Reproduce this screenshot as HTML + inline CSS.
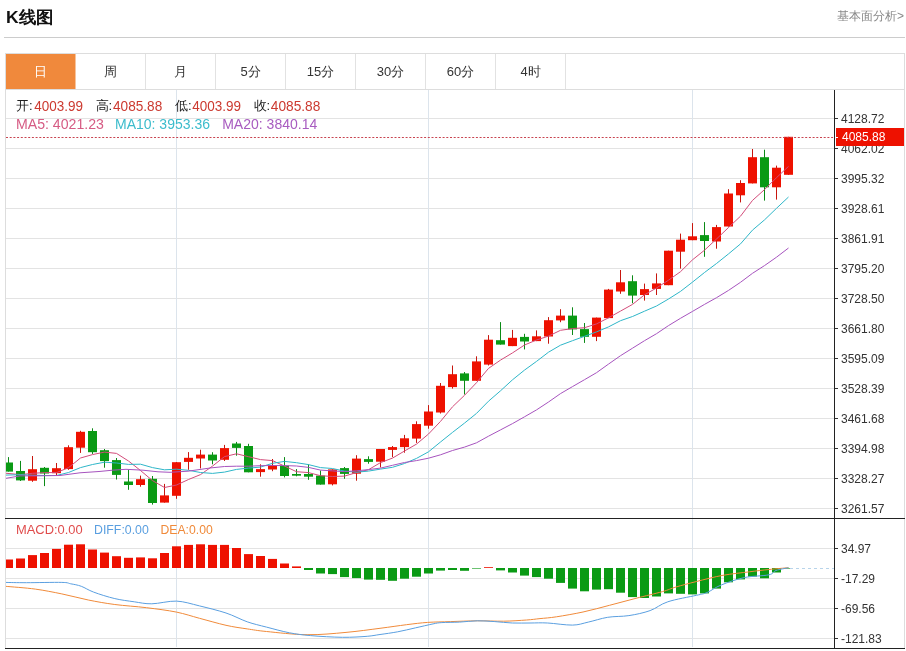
<!DOCTYPE html>
<html><head><meta charset="utf-8"><style>
html,body{margin:0;padding:0;background:#fff;width:906px;height:651px;overflow:hidden}
svg{display:block;font-family:"Liberation Sans",sans-serif;will-change:transform}
</style></head><body>
<svg width="906" height="651" viewBox="0 0 906 651">
<text x="6" y="23" font-size="17" font-weight="bold" fill="#111" textLength="47.5" lengthAdjust="spacingAndGlyphs">K线图</text>
<text x="904" y="20" font-size="12" fill="#888" text-anchor="end">基本面分析&gt;</text>
<rect x="4" y="37" width="901" height="1" fill="#ccc"/>
<rect x="5.5" y="53.5" width="899" height="36" fill="#fff" stroke="#ddd" stroke-width="1"/>
<rect x="6" y="54" width="69.5" height="35" fill="#f0893c"/>
<text x="40.5" y="76.2" font-size="13" fill="#fff" text-anchor="middle">日</text>
<rect x="145" y="54" width="1" height="35" fill="#e2e2e2"/>
<text x="110.5" y="76.2" font-size="13" fill="#333" text-anchor="middle">周</text>
<rect x="215" y="54" width="1" height="35" fill="#e2e2e2"/>
<text x="180.5" y="76.2" font-size="13" fill="#333" text-anchor="middle">月</text>
<rect x="285" y="54" width="1" height="35" fill="#e2e2e2"/>
<text x="250.5" y="76.2" font-size="13" fill="#333" text-anchor="middle">5分</text>
<rect x="355" y="54" width="1" height="35" fill="#e2e2e2"/>
<text x="320.5" y="76.2" font-size="13" fill="#333" text-anchor="middle">15分</text>
<rect x="425" y="54" width="1" height="35" fill="#e2e2e2"/>
<text x="390.5" y="76.2" font-size="13" fill="#333" text-anchor="middle">30分</text>
<rect x="495" y="54" width="1" height="35" fill="#e2e2e2"/>
<text x="460.5" y="76.2" font-size="13" fill="#333" text-anchor="middle">60分</text>
<rect x="565" y="54" width="1" height="35" fill="#e2e2e2"/>
<text x="530.5" y="76.2" font-size="13" fill="#333" text-anchor="middle">4时</text>
<rect x="5" y="89" width="1" height="559" fill="#ddd"/>
<rect x="904" y="89" width="1" height="559" fill="#ddd"/>
<rect x="6" y="118" width="828" height="1" fill="#e3e3e3"/>
<rect x="835" y="118" width="3" height="1" fill="#333"/>
<rect x="6" y="148" width="828" height="1" fill="#e3e3e3"/>
<rect x="835" y="148" width="3" height="1" fill="#333"/>
<rect x="6" y="178" width="828" height="1" fill="#e3e3e3"/>
<rect x="835" y="178" width="3" height="1" fill="#333"/>
<rect x="6" y="208" width="828" height="1" fill="#e3e3e3"/>
<rect x="835" y="208" width="3" height="1" fill="#333"/>
<rect x="6" y="238" width="828" height="1" fill="#e3e3e3"/>
<rect x="835" y="238" width="3" height="1" fill="#333"/>
<rect x="6" y="268" width="828" height="1" fill="#e3e3e3"/>
<rect x="835" y="268" width="3" height="1" fill="#333"/>
<rect x="6" y="298" width="828" height="1" fill="#e3e3e3"/>
<rect x="835" y="298" width="3" height="1" fill="#333"/>
<rect x="6" y="328" width="828" height="1" fill="#e3e3e3"/>
<rect x="835" y="328" width="3" height="1" fill="#333"/>
<rect x="6" y="358" width="828" height="1" fill="#e3e3e3"/>
<rect x="835" y="358" width="3" height="1" fill="#333"/>
<rect x="6" y="388" width="828" height="1" fill="#e3e3e3"/>
<rect x="835" y="388" width="3" height="1" fill="#333"/>
<rect x="6" y="418" width="828" height="1" fill="#e3e3e3"/>
<rect x="835" y="418" width="3" height="1" fill="#333"/>
<rect x="6" y="448" width="828" height="1" fill="#e3e3e3"/>
<rect x="835" y="448" width="3" height="1" fill="#333"/>
<rect x="6" y="478" width="828" height="1" fill="#e3e3e3"/>
<rect x="835" y="478" width="3" height="1" fill="#333"/>
<rect x="6" y="508" width="828" height="1" fill="#e3e3e3"/>
<rect x="835" y="508" width="3" height="1" fill="#333"/>
<rect x="6" y="548" width="828" height="1" fill="#e3e3e3"/>
<rect x="835" y="548" width="3" height="1" fill="#333"/>
<rect x="6" y="578" width="828" height="1" fill="#e3e3e3"/>
<rect x="835" y="578" width="3" height="1" fill="#333"/>
<rect x="6" y="608" width="828" height="1" fill="#e3e3e3"/>
<rect x="835" y="608" width="3" height="1" fill="#333"/>
<rect x="6" y="638" width="828" height="1" fill="#e3e3e3"/>
<rect x="835" y="638" width="3" height="1" fill="#333"/>
<rect x="176" y="90" width="1" height="557" fill="#dce4ec"/>
<rect x="428" y="90" width="1" height="557" fill="#dce4ec"/>
<rect x="692" y="90" width="1" height="557" fill="#dce4ec"/>
<rect x="5" y="518" width="900" height="1" fill="#222"/>
<rect x="5" y="648" width="900" height="1" fill="#222"/>
<rect x="834" y="90" width="1" height="559" fill="#222"/>
<text x="841" y="123" font-size="12" fill="#333">4128.72</text>
<text x="841" y="153" font-size="12" fill="#333">4062.02</text>
<text x="841" y="183" font-size="12" fill="#333">3995.32</text>
<text x="841" y="213" font-size="12" fill="#333">3928.61</text>
<text x="841" y="243" font-size="12" fill="#333">3861.91</text>
<text x="841" y="273" font-size="12" fill="#333">3795.20</text>
<text x="841" y="303" font-size="12" fill="#333">3728.50</text>
<text x="841" y="333" font-size="12" fill="#333">3661.80</text>
<text x="841" y="363" font-size="12" fill="#333">3595.09</text>
<text x="841" y="393" font-size="12" fill="#333">3528.39</text>
<text x="841" y="423" font-size="12" fill="#333">3461.68</text>
<text x="841" y="453" font-size="12" fill="#333">3394.98</text>
<text x="841" y="483" font-size="12" fill="#333">3328.27</text>
<text x="841" y="513" font-size="12" fill="#333">3261.57</text>
<text x="841" y="553" font-size="12" fill="#333">34.97</text>
<text x="841" y="583" font-size="12" fill="#333">-17.29</text>
<text x="841" y="613" font-size="12" fill="#333">-69.56</text>
<text x="841" y="643" font-size="12" fill="#333">-121.83</text>
<clipPath id="cp"><rect x="6" y="90" width="828" height="428"/></clipPath>
<clipPath id="cp2"><rect x="6" y="519" width="828" height="128"/></clipPath>
<g clip-path="url(#cp)">
<rect x="8.0" y="457.1" width="1" height="14.5" fill="#0b8a16"/>
<rect x="4.0" y="462.5" width="9" height="9.1" fill="#0a9a14"/>
<rect x="20.0" y="460.9" width="1" height="20.1" fill="#0b8a16"/>
<rect x="16.0" y="471.0" width="9" height="9.4" fill="#0a9a14"/>
<rect x="32.0" y="456.0" width="1" height="25.8" fill="#c8160e"/>
<rect x="28.0" y="469.2" width="9" height="11.5" fill="#ee1100"/>
<rect x="44.0" y="467.0" width="1" height="19.1" fill="#0b8a16"/>
<rect x="40.0" y="467.8" width="9" height="5.7" fill="#0a9a14"/>
<rect x="56.0" y="463.0" width="1" height="12.9" fill="#c8160e"/>
<rect x="52.0" y="468.2" width="9" height="5.0" fill="#ee1100"/>
<rect x="68.0" y="445.3" width="1" height="24.5" fill="#c8160e"/>
<rect x="64.0" y="447.2" width="9" height="21.9" fill="#ee1100"/>
<rect x="80.0" y="430.8" width="1" height="22.1" fill="#c8160e"/>
<rect x="76.0" y="431.8" width="9" height="15.9" fill="#ee1100"/>
<rect x="92.0" y="428.3" width="1" height="25.6" fill="#0b8a16"/>
<rect x="88.0" y="431.0" width="9" height="21.2" fill="#0a9a14"/>
<rect x="104.0" y="449.0" width="1" height="18.7" fill="#0b8a16"/>
<rect x="100.0" y="450.2" width="9" height="10.9" fill="#0a9a14"/>
<rect x="116.0" y="458.0" width="1" height="21.5" fill="#0b8a16"/>
<rect x="112.0" y="460.1" width="9" height="14.8" fill="#0a9a14"/>
<rect x="128.0" y="469.8" width="1" height="20.0" fill="#0b8a16"/>
<rect x="124.0" y="481.5" width="9" height="3.5" fill="#0a9a14"/>
<rect x="140.0" y="475.6" width="1" height="11.1" fill="#c8160e"/>
<rect x="136.0" y="479.2" width="9" height="5.8" fill="#ee1100"/>
<rect x="152.0" y="476.0" width="1" height="28.6" fill="#0b8a16"/>
<rect x="148.0" y="478.8" width="9" height="24.2" fill="#0a9a14"/>
<rect x="164.0" y="483.9" width="1" height="18.7" fill="#c8160e"/>
<rect x="160.0" y="495.4" width="9" height="7.2" fill="#ee1100"/>
<rect x="176.0" y="462.0" width="1" height="36.8" fill="#c8160e"/>
<rect x="172.0" y="462.2" width="9" height="33.6" fill="#ee1100"/>
<rect x="188.0" y="452.1" width="1" height="17.7" fill="#c8160e"/>
<rect x="184.0" y="457.8" width="9" height="4.1" fill="#ee1100"/>
<rect x="200.0" y="449.7" width="1" height="18.7" fill="#c8160e"/>
<rect x="196.0" y="454.6" width="9" height="3.9" fill="#ee1100"/>
<rect x="212.0" y="452.2" width="1" height="12.1" fill="#0b8a16"/>
<rect x="208.0" y="454.6" width="9" height="5.9" fill="#0a9a14"/>
<rect x="224.0" y="444.9" width="1" height="16.1" fill="#c8160e"/>
<rect x="220.0" y="448.1" width="9" height="11.7" fill="#ee1100"/>
<rect x="236.0" y="441.9" width="1" height="13.8" fill="#0b8a16"/>
<rect x="232.0" y="443.5" width="9" height="4.4" fill="#0a9a14"/>
<rect x="248.0" y="443.8" width="1" height="28.5" fill="#0b8a16"/>
<rect x="244.0" y="446.0" width="9" height="26.3" fill="#0a9a14"/>
<rect x="260.0" y="464.3" width="1" height="12.4" fill="#c8160e"/>
<rect x="256.0" y="469.1" width="9" height="3.0" fill="#ee1100"/>
<rect x="272.0" y="459.0" width="1" height="12.2" fill="#c8160e"/>
<rect x="268.0" y="465.4" width="9" height="4.1" fill="#ee1100"/>
<rect x="284.0" y="457.1" width="1" height="20.3" fill="#0b8a16"/>
<rect x="280.0" y="465.6" width="9" height="10.4" fill="#0a9a14"/>
<rect x="296.0" y="469.1" width="1" height="7.2" fill="#0b8a16"/>
<rect x="292.0" y="474.0" width="9" height="1.7" fill="#0a9a14"/>
<rect x="308.0" y="464.3" width="1" height="15.5" fill="#0b8a16"/>
<rect x="304.0" y="474.0" width="9" height="2.7" fill="#0a9a14"/>
<rect x="320.0" y="470.5" width="1" height="14.1" fill="#0b8a16"/>
<rect x="316.0" y="475.6" width="9" height="9.0" fill="#0a9a14"/>
<rect x="332.0" y="469.4" width="1" height="16.0" fill="#c8160e"/>
<rect x="328.0" y="469.4" width="9" height="14.9" fill="#ee1100"/>
<rect x="344.0" y="467.0" width="1" height="11.8" fill="#0b8a16"/>
<rect x="340.0" y="468.1" width="9" height="5.8" fill="#0a9a14"/>
<rect x="356.0" y="455.2" width="1" height="25.5" fill="#c8160e"/>
<rect x="352.0" y="458.6" width="9" height="15.1" fill="#ee1100"/>
<rect x="368.0" y="456.3" width="1" height="7.4" fill="#0b8a16"/>
<rect x="364.0" y="459.1" width="9" height="2.8" fill="#0a9a14"/>
<rect x="380.0" y="449.0" width="1" height="18.4" fill="#c8160e"/>
<rect x="376.0" y="449.0" width="9" height="12.7" fill="#ee1100"/>
<rect x="392.0" y="446.0" width="1" height="11.1" fill="#c8160e"/>
<rect x="388.0" y="447.1" width="9" height="2.8" fill="#ee1100"/>
<rect x="404.0" y="434.9" width="1" height="17.8" fill="#c8160e"/>
<rect x="400.0" y="438.3" width="9" height="8.8" fill="#ee1100"/>
<rect x="416.0" y="421.3" width="1" height="21.6" fill="#c8160e"/>
<rect x="412.0" y="424.1" width="9" height="14.5" fill="#ee1100"/>
<rect x="428.0" y="405.1" width="1" height="23.6" fill="#c8160e"/>
<rect x="424.0" y="411.5" width="9" height="14.2" fill="#ee1100"/>
<rect x="440.0" y="383.0" width="1" height="30.5" fill="#c8160e"/>
<rect x="436.0" y="385.8" width="9" height="26.7" fill="#ee1100"/>
<rect x="452.0" y="365.5" width="1" height="23.1" fill="#c8160e"/>
<rect x="448.0" y="374.2" width="9" height="12.9" fill="#ee1100"/>
<rect x="464.0" y="372.0" width="1" height="22.5" fill="#0b8a16"/>
<rect x="460.0" y="373.4" width="9" height="7.4" fill="#0a9a14"/>
<rect x="476.0" y="356.3" width="1" height="24.5" fill="#c8160e"/>
<rect x="472.0" y="361.4" width="9" height="19.4" fill="#ee1100"/>
<rect x="488.0" y="335.1" width="1" height="30.4" fill="#c8160e"/>
<rect x="484.0" y="339.7" width="9" height="24.9" fill="#ee1100"/>
<rect x="500.0" y="322.1" width="1" height="22.5" fill="#0b8a16"/>
<rect x="496.0" y="340.2" width="9" height="4.4" fill="#0a9a14"/>
<rect x="512.0" y="329.9" width="1" height="16.2" fill="#c8160e"/>
<rect x="508.0" y="337.8" width="9" height="8.3" fill="#ee1100"/>
<rect x="524.0" y="333.8" width="1" height="15.6" fill="#0b8a16"/>
<rect x="520.0" y="336.9" width="9" height="4.6" fill="#0a9a14"/>
<rect x="536.0" y="330.4" width="1" height="10.7" fill="#c8160e"/>
<rect x="532.0" y="336.3" width="9" height="4.8" fill="#ee1100"/>
<rect x="548.0" y="317.1" width="1" height="26.6" fill="#c8160e"/>
<rect x="544.0" y="320.2" width="9" height="16.3" fill="#ee1100"/>
<rect x="560.0" y="309.2" width="1" height="13.0" fill="#c8160e"/>
<rect x="556.0" y="315.6" width="9" height="4.8" fill="#ee1100"/>
<rect x="572.0" y="307.3" width="1" height="27.7" fill="#0b8a16"/>
<rect x="568.0" y="315.6" width="9" height="13.8" fill="#0a9a14"/>
<rect x="584.0" y="323.0" width="1" height="19.9" fill="#0b8a16"/>
<rect x="580.0" y="329.1" width="9" height="7.7" fill="#0a9a14"/>
<rect x="596.0" y="317.6" width="1" height="23.5" fill="#c8160e"/>
<rect x="592.0" y="317.6" width="9" height="19.2" fill="#ee1100"/>
<rect x="608.0" y="288.9" width="1" height="29.2" fill="#c8160e"/>
<rect x="604.0" y="289.6" width="9" height="28.5" fill="#ee1100"/>
<rect x="620.0" y="270.0" width="1" height="23.8" fill="#c8160e"/>
<rect x="616.0" y="282.3" width="9" height="9.2" fill="#ee1100"/>
<rect x="632.0" y="275.3" width="1" height="28.0" fill="#0b8a16"/>
<rect x="628.0" y="281.2" width="9" height="14.4" fill="#0a9a14"/>
<rect x="644.0" y="283.6" width="1" height="17.0" fill="#c8160e"/>
<rect x="640.0" y="289.1" width="9" height="5.9" fill="#ee1100"/>
<rect x="656.0" y="273.4" width="1" height="21.6" fill="#c8160e"/>
<rect x="652.0" y="283.4" width="9" height="5.5" fill="#ee1100"/>
<rect x="668.0" y="250.7" width="1" height="34.5" fill="#c8160e"/>
<rect x="664.0" y="250.7" width="9" height="34.5" fill="#ee1100"/>
<rect x="680.0" y="233.6" width="1" height="35.0" fill="#c8160e"/>
<rect x="676.0" y="239.7" width="9" height="12.0" fill="#ee1100"/>
<rect x="692.0" y="223.1" width="1" height="17.1" fill="#c8160e"/>
<rect x="688.0" y="236.3" width="9" height="3.9" fill="#ee1100"/>
<rect x="704.0" y="222.1" width="1" height="34.7" fill="#0b8a16"/>
<rect x="700.0" y="235.1" width="9" height="5.9" fill="#0a9a14"/>
<rect x="716.0" y="224.9" width="1" height="23.8" fill="#c8160e"/>
<rect x="712.0" y="227.1" width="9" height="14.4" fill="#ee1100"/>
<rect x="728.0" y="189.2" width="1" height="37.3" fill="#c8160e"/>
<rect x="724.0" y="193.5" width="9" height="33.0" fill="#ee1100"/>
<rect x="740.0" y="180.2" width="1" height="22.2" fill="#c8160e"/>
<rect x="736.0" y="183.0" width="9" height="12.3" fill="#ee1100"/>
<rect x="752.0" y="149.0" width="1" height="34.4" fill="#c8160e"/>
<rect x="748.0" y="157.2" width="9" height="26.2" fill="#ee1100"/>
<rect x="764.0" y="149.7" width="1" height="50.9" fill="#0b8a16"/>
<rect x="760.0" y="157.2" width="9" height="30.1" fill="#0a9a14"/>
<rect x="776.0" y="165.6" width="1" height="34.0" fill="#c8160e"/>
<rect x="772.0" y="167.7" width="9" height="19.6" fill="#ee1100"/>
<rect x="788.0" y="136.8" width="1" height="38.0" fill="#c8160e"/>
<rect x="784.0" y="136.8" width="9" height="38.0" fill="#ee1100"/>
<path d="M5.5,473.2 L20.5,474.6 L32.5,473.3 L44.5,472.6 L56.5,472.6 L68.5,467.7 L80.5,458.0 L92.5,454.6 L104.5,452.1 L116.5,453.4 L128.5,461.0 L140.5,470.5 L152.5,480.6 L164.5,487.5 L176.5,485.0 L188.5,479.5 L200.5,474.6 L212.5,466.1 L224.5,456.6 L236.5,453.8 L248.5,456.7 L260.5,459.6 L272.5,460.6 L284.5,466.1 L296.5,471.7 L308.5,472.6 L320.5,475.7 L332.5,476.5 L344.5,476.1 L356.5,472.6 L368.5,469.7 L380.5,462.6 L392.5,458.1 L404.5,451.0 L416.5,444.1 L428.5,434.0 L440.5,421.4 L452.5,406.8 L464.5,395.3 L476.5,382.7 L488.5,368.4 L500.5,360.1 L512.5,352.9 L524.5,345.0 L536.5,340.0 L548.5,336.1 L560.5,330.3 L572.5,328.6 L584.5,327.7 L596.5,323.9 L608.5,317.8 L620.5,311.1 L632.5,304.4 L644.5,294.8 L656.5,288.0 L668.5,280.2 L680.5,271.7 L692.5,259.8 L704.5,250.2 L716.5,239.0 L728.5,227.5 L740.5,216.2 L752.5,200.4 L764.5,189.6 L776.5,177.7 L788.5,166.4" fill="none" stroke="#d24c7a" stroke-width="1"/>
<path d="M5.5,475.1 L20.5,474.7 L32.5,475.2 L44.5,475.5 L56.5,475.5 L68.5,472.5 L80.5,467.6 L92.5,464.5 L104.5,462.2 L116.5,463.0 L128.5,464.4 L140.5,464.2 L152.5,467.6 L164.5,469.8 L176.5,469.2 L188.5,470.3 L200.5,472.5 L212.5,473.4 L224.5,472.1 L236.5,469.4 L248.5,468.1 L260.5,467.1 L272.5,463.3 L284.5,461.4 L296.5,462.7 L308.5,464.6 L320.5,467.6 L332.5,468.5 L344.5,471.1 L356.5,472.2 L368.5,471.1 L380.5,469.1 L392.5,467.3 L404.5,463.5 L416.5,458.4 L428.5,451.8 L440.5,442.0 L452.5,432.4 L464.5,423.1 L476.5,413.4 L488.5,401.2 L500.5,390.8 L512.5,379.8 L524.5,370.1 L536.5,361.4 L548.5,352.2 L560.5,345.2 L572.5,340.7 L584.5,336.3 L596.5,331.9 L608.5,326.9 L620.5,320.7 L632.5,316.5 L644.5,311.2 L656.5,306.0 L668.5,299.0 L680.5,291.4 L692.5,282.1 L704.5,272.5 L716.5,263.5 L728.5,253.9 L740.5,243.9 L752.5,230.1 L764.5,219.9 L776.5,208.3 L788.5,197.0" fill="none" stroke="#2eb6c8" stroke-width="1"/>
<path d="M5.5,478.4 L20.0,475.9 L40.0,475.8 L60.0,475.5 L80.0,472.8 L99.0,471.5 L112.6,470.2 L126.0,469.3 L143.0,470.2 L158.0,471.8 L170.0,472.3 L188.0,471.2 L210.0,468.0 L224.5,466.5 L236.5,466.2 L248.5,466.2 L260.5,465.7 L272.5,465.5 L284.5,465.6 L296.5,466.0 L308.5,467.4 L320.5,470.1 L332.5,470.9 L344.5,471.6 L356.5,470.8 L368.5,469.6 L380.5,468.1 L392.5,465.3 L404.5,462.5 L416.5,460.6 L428.5,458.2 L440.5,454.8 L452.5,450.5 L464.5,447.1 L476.5,442.8 L488.5,436.2 L500.5,429.9 L512.5,423.6 L524.5,416.8 L536.5,409.9 L548.5,402.0 L560.5,393.6 L572.5,386.6 L584.5,379.7 L596.5,372.7 L608.5,364.1 L620.5,355.7 L632.5,348.2 L644.5,340.7 L656.5,333.7 L668.5,325.6 L680.5,318.3 L692.5,311.4 L704.5,304.4 L716.5,297.7 L728.5,290.4 L740.5,282.3 L752.5,273.3 L764.5,265.6 L776.5,257.2 L788.5,248.0" fill="none" stroke="#a653be" stroke-width="1"/>
</g>
<line x1="6" y1="137.5" x2="834" y2="137.5" stroke="#c84450" stroke-width="1" stroke-dasharray="2,1.7"/>
<rect x="836" y="128" width="68" height="18" fill="#ee1100"/>
<text x="842" y="141.4" font-size="12" fill="#fff">4085.88</text>
<rect x="835" y="137" width="3" height="1" fill="#fff"/>
<text x="16" y="110.2" font-size="13" fill="#222">开:</text>
<text x="34.2" y="111" font-size="14" fill="#cc3a30" textLength="48.8" lengthAdjust="spacingAndGlyphs">4003.99</text>
<text x="95.5" y="110.2" font-size="13" fill="#222">高:</text>
<text x="113" y="111" font-size="14" fill="#cc3a30" textLength="49.2" lengthAdjust="spacingAndGlyphs">4085.88</text>
<text x="175" y="110.2" font-size="13" fill="#222">低:</text>
<text x="192.3" y="111" font-size="14" fill="#cc3a30" textLength="48.8" lengthAdjust="spacingAndGlyphs">4003.99</text>
<text x="253.5" y="110.2" font-size="13" fill="#222">收:</text>
<text x="270.8" y="111" font-size="14" fill="#cc3a30" textLength="49.5" lengthAdjust="spacingAndGlyphs">4085.88</text>
<text x="16" y="129" font-size="14" fill="#d65c84" textLength="87.9" lengthAdjust="spacingAndGlyphs">MA5: 4021.23</text>
<text x="115" y="129" font-size="14" fill="#3cbccc" textLength="95" lengthAdjust="spacingAndGlyphs">MA10: 3953.36</text>
<text x="222.2" y="129" font-size="14" fill="#a85cc0" textLength="95.1" lengthAdjust="spacingAndGlyphs">MA20: 3840.14</text>
<g clip-path="url(#cp2)">
<rect x="4.0" y="559.5" width="9" height="8.5" fill="#ee1100"/>
<rect x="16.0" y="558.5" width="9" height="9.5" fill="#ee1100"/>
<rect x="28.0" y="555.1" width="9" height="12.9" fill="#ee1100"/>
<rect x="40.0" y="553.0" width="9" height="15.0" fill="#ee1100"/>
<rect x="52.0" y="548.9" width="9" height="19.1" fill="#ee1100"/>
<rect x="64.0" y="544.7" width="9" height="23.3" fill="#ee1100"/>
<rect x="76.0" y="544.3" width="9" height="23.7" fill="#ee1100"/>
<rect x="88.0" y="549.5" width="9" height="18.5" fill="#ee1100"/>
<rect x="100.0" y="552.6" width="9" height="15.4" fill="#ee1100"/>
<rect x="112.0" y="556.2" width="9" height="11.8" fill="#ee1100"/>
<rect x="124.0" y="557.8" width="9" height="10.2" fill="#ee1100"/>
<rect x="136.0" y="557.4" width="9" height="10.6" fill="#ee1100"/>
<rect x="148.0" y="558.3" width="9" height="9.7" fill="#ee1100"/>
<rect x="160.0" y="553.0" width="9" height="15.0" fill="#ee1100"/>
<rect x="172.0" y="546.3" width="9" height="21.7" fill="#ee1100"/>
<rect x="184.0" y="544.9" width="9" height="23.1" fill="#ee1100"/>
<rect x="196.0" y="544.3" width="9" height="23.7" fill="#ee1100"/>
<rect x="208.0" y="544.9" width="9" height="23.1" fill="#ee1100"/>
<rect x="220.0" y="544.9" width="9" height="23.1" fill="#ee1100"/>
<rect x="232.0" y="548.0" width="9" height="20.0" fill="#ee1100"/>
<rect x="244.0" y="554.1" width="9" height="13.9" fill="#ee1100"/>
<rect x="256.0" y="556.0" width="9" height="12.0" fill="#ee1100"/>
<rect x="268.0" y="558.9" width="9" height="9.1" fill="#ee1100"/>
<rect x="280.0" y="563.5" width="9" height="4.5" fill="#ee1100"/>
<rect x="292.0" y="566.4" width="9" height="1.6" fill="#ee1100"/>
<rect x="304.0" y="568" width="9" height="2.0" fill="#0a9a14"/>
<rect x="316.0" y="568" width="9" height="5.5" fill="#0a9a14"/>
<rect x="328.0" y="568" width="9" height="6.1" fill="#0a9a14"/>
<rect x="340.0" y="568" width="9" height="9.1" fill="#0a9a14"/>
<rect x="352.0" y="568" width="9" height="10.1" fill="#0a9a14"/>
<rect x="364.0" y="568" width="9" height="11.6" fill="#0a9a14"/>
<rect x="376.0" y="568" width="9" height="11.8" fill="#0a9a14"/>
<rect x="388.0" y="568" width="9" height="12.8" fill="#0a9a14"/>
<rect x="400.0" y="568" width="9" height="10.7" fill="#0a9a14"/>
<rect x="412.0" y="568" width="9" height="8.7" fill="#0a9a14"/>
<rect x="424.0" y="568" width="9" height="5.5" fill="#0a9a14"/>
<rect x="436.0" y="568" width="9" height="2.6" fill="#0a9a14"/>
<rect x="448.0" y="568" width="9" height="2.0" fill="#0a9a14"/>
<rect x="460.0" y="568" width="9" height="2.8" fill="#0a9a14"/>
<rect x="472.0" y="568" width="9" height="0.6" fill="#0a9a14"/>
<rect x="484.0" y="567.2" width="9" height="0.8" fill="#ee1100"/>
<rect x="496.0" y="568" width="9" height="2.4" fill="#0a9a14"/>
<rect x="508.0" y="568" width="9" height="4.5" fill="#0a9a14"/>
<rect x="520.0" y="568" width="9" height="7.6" fill="#0a9a14"/>
<rect x="532.0" y="568" width="9" height="9.1" fill="#0a9a14"/>
<rect x="544.0" y="568" width="9" height="10.7" fill="#0a9a14"/>
<rect x="556.0" y="568" width="9" height="14.9" fill="#0a9a14"/>
<rect x="568.0" y="568" width="9" height="20.6" fill="#0a9a14"/>
<rect x="580.0" y="568" width="9" height="23.3" fill="#0a9a14"/>
<rect x="592.0" y="568" width="9" height="21.6" fill="#0a9a14"/>
<rect x="604.0" y="568" width="9" height="21.2" fill="#0a9a14"/>
<rect x="616.0" y="568" width="9" height="24.7" fill="#0a9a14"/>
<rect x="628.0" y="568" width="9" height="29.1" fill="#0a9a14"/>
<rect x="640.0" y="568" width="9" height="30.0" fill="#0a9a14"/>
<rect x="652.0" y="568" width="9" height="28.5" fill="#0a9a14"/>
<rect x="664.0" y="568" width="9" height="25.4" fill="#0a9a14"/>
<rect x="676.0" y="568" width="9" height="25.8" fill="#0a9a14"/>
<rect x="688.0" y="568" width="9" height="26.4" fill="#0a9a14"/>
<rect x="700.0" y="568" width="9" height="25.4" fill="#0a9a14"/>
<rect x="712.0" y="568" width="9" height="20.6" fill="#0a9a14"/>
<rect x="724.0" y="568" width="9" height="14.3" fill="#0a9a14"/>
<rect x="736.0" y="568" width="9" height="11.4" fill="#0a9a14"/>
<rect x="748.0" y="568" width="9" height="8.6" fill="#0a9a14"/>
<rect x="760.0" y="568" width="9" height="10.3" fill="#0a9a14"/>
<rect x="772.0" y="568" width="9" height="4.5" fill="#0a9a14"/>
<rect x="784.0" y="568" width="9" height="0.6" fill="#0a9a14"/>
<path d="M5.5,586.3 C10.5,586.8 25.9,587.8 35.3,589.1 C44.7,590.4 53.0,592.1 61.8,593.9 C70.6,595.7 79.5,598.2 88.3,600.0 C97.1,601.8 105.1,603.2 114.8,604.5 C124.5,605.8 136.2,606.4 146.5,607.7 C156.8,609.0 167.7,610.3 176.5,612.1 C185.3,613.9 191.2,616.1 199.5,618.3 C207.8,620.5 218.1,623.5 226.0,625.3 C233.9,627.1 240.4,627.9 247.2,628.9 C253.9,629.9 256.5,630.5 266.5,631.5 C276.5,632.5 293.9,634.6 307.1,634.7 C320.4,634.9 333.9,633.5 346.0,632.4 C358.1,631.3 369.9,629.6 380.0,628.3 C390.1,627.0 398.6,625.7 406.5,624.7 C414.4,623.7 420.3,622.9 427.7,622.4 C435.1,621.9 442.4,621.9 450.7,621.6 C458.9,621.3 468.4,620.9 477.2,620.8 C486.0,620.7 495.5,621.3 503.7,621.2 C511.9,621.1 520.6,620.4 526.6,620.0 C532.6,619.6 535.0,619.1 540.0,618.6 C545.0,618.1 549.3,617.9 556.5,616.8 C563.7,615.7 574.2,613.9 583.0,612.0 C591.8,610.1 600.7,607.6 609.5,605.3 C618.3,603.0 627.2,600.6 636.0,598.3 C644.8,596.0 655.8,593.5 662.5,591.6 C669.2,589.7 670.3,588.7 676.0,587.0 C681.7,585.3 688.7,583.5 696.5,581.5 C704.3,579.5 714.2,576.9 723.0,575.3 C731.8,573.7 741.9,572.8 749.5,571.8 C757.1,570.8 762.4,570.2 768.9,569.5 C775.4,568.8 785.2,568.0 788.5,567.7" fill="none" stroke="#f08a3a" stroke-width="1"/>
<path d="M5.5,582.4 C9.0,582.5 17.1,582.7 26.5,582.7 C35.9,582.7 54.4,582.2 61.8,582.4 C69.2,582.6 67.5,583.1 70.7,583.8 C74.0,584.4 77.5,584.9 81.3,586.3 C85.1,587.7 88.0,590.0 93.6,592.1 C99.2,594.2 108.0,597.0 114.8,598.6 C121.6,600.2 128.1,600.9 134.3,601.8 C140.5,602.7 144.8,603.9 151.8,603.8 C158.8,603.7 168.6,600.8 176.5,601.1 C184.4,601.5 191.2,603.9 199.5,605.9 C207.8,607.9 218.1,610.4 226.0,613.0 C233.9,615.6 240.4,619.4 247.2,621.8 C253.9,624.1 259.4,625.3 266.5,627.1 C273.6,628.9 282.1,631.4 289.5,632.8 C296.9,634.2 301.9,634.9 310.7,635.6 C319.5,636.4 333.1,637.2 342.5,637.3 C351.9,637.4 360.9,636.8 367.2,636.3 C373.4,635.8 374.9,635.2 380.0,634.5 C385.1,633.8 391.8,632.9 397.7,631.8 C403.6,630.7 409.4,629.2 415.3,627.9 C421.2,626.6 428.6,624.8 433.0,623.9 C437.4,623.0 437.4,622.9 441.8,622.6 C446.2,622.3 453.6,622.4 459.5,622.1 C465.4,621.8 471.3,620.9 477.2,620.8 C483.1,620.7 488.9,621.2 494.8,621.6 C500.7,622.0 506.6,622.8 512.5,623.0 C518.4,623.2 524.1,623.0 530.0,623.0 C535.9,623.0 540.6,622.6 547.7,623.0 C554.8,623.4 565.6,625.2 572.4,625.1 C579.2,625.0 582.4,623.4 588.3,622.1 C594.2,620.8 600.9,618.4 607.7,617.3 C614.5,616.2 621.8,616.7 628.9,615.6 C636.0,614.5 643.6,612.9 650.1,610.6 C656.6,608.3 660.1,604.3 667.8,601.8 C675.5,599.2 690.0,596.8 696.5,595.3 C703.0,593.8 703.0,594.2 707.1,592.5 C711.2,590.8 715.0,587.5 721.2,585.0 C727.4,582.5 736.2,579.3 744.2,577.6 C752.2,575.9 763.6,576.0 768.9,574.8 C774.2,573.6 772.7,571.7 776.0,570.5 C779.3,569.3 786.4,568.2 788.5,567.7" fill="none" stroke="#5a9fe0" stroke-width="1"/>
</g>
<line x1="790" y1="568.5" x2="834" y2="568.5" stroke="#b8d4ea" stroke-width="1" stroke-dasharray="3,3"/>
<text x="16" y="534" font-size="12" fill="#e04c4c" textLength="66.6" lengthAdjust="spacingAndGlyphs">MACD:0.00</text>
<text x="94" y="534" font-size="12" fill="#5a9fe0" textLength="54.8" lengthAdjust="spacingAndGlyphs">DIFF:0.00</text>
<text x="160.5" y="534" font-size="12" fill="#f08a3a" textLength="52.2" lengthAdjust="spacingAndGlyphs">DEA:0.00</text>
</svg></body></html>
